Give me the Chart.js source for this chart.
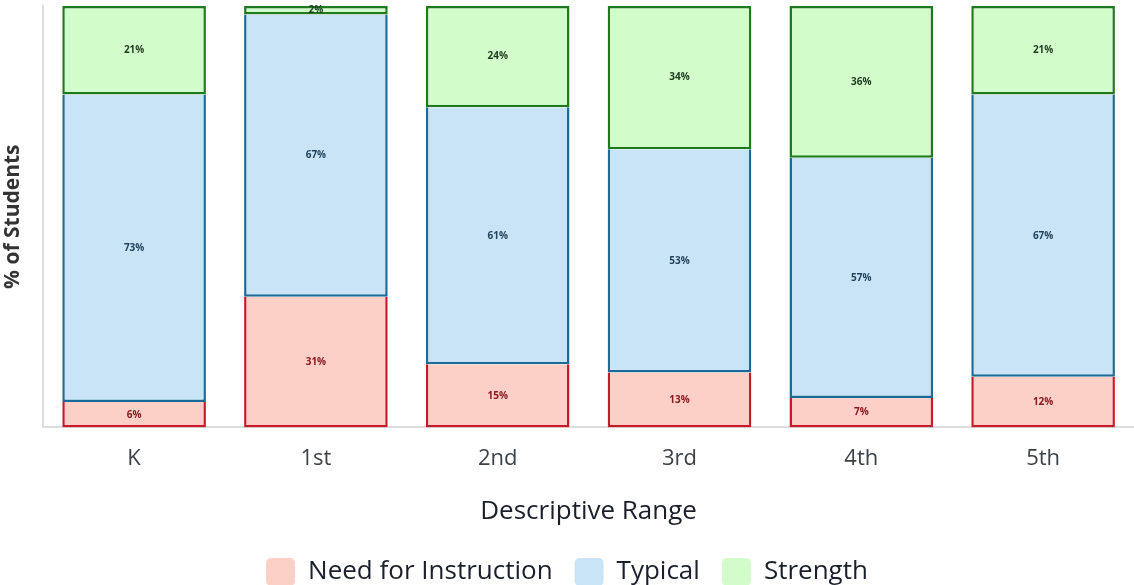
<!DOCTYPE html>
<html>
<head>
<meta charset="utf-8">
<script src="https://cdn.jsdelivr.net/npm/chart.js@4.4.1/dist/chart.umd.min.js"></script>
<style>
  html, body { margin: 0; padding: 0; background: #fff; }
  #wrap { width: 1134px; height: 585px; }
</style>
</head>
<body>
<div id="wrap"><canvas id="chart"></canvas></div>
<script>
const grades = ['K', '1st', '2nd', '3rd', '4th', '5th'];
const needForInstruction = [6, 31, 15, 13, 7, 12];
const typical = [73, 67, 61, 53, 57, 67];
const strength = [21, 2, 24, 34, 36, 21];

const FONT = '"Open Sans", sans-serif';

// percent labels in the middle of each segment
const segmentLabels = {
  id: 'segmentLabels',
  afterDatasetsDraw(chart) {
    const ctx = chart.ctx;
    ctx.save();
    ctx.font = 'bold 10px ' + FONT;
    ctx.textAlign = 'center';
    ctx.textBaseline = 'middle';
    chart.data.datasets.forEach((ds, i) => {
      const meta = chart.getDatasetMeta(i);
      meta.data.forEach((bar, j) => {
        const p = bar.getProps(['x', 'y', 'base'], true);
        ctx.fillStyle = ds.labelColor;
        ctx.fillText(ds.data[j] + '%', p.x, (p.y + p.base) / 2);
      });
    });
    ctx.restore();
  }
};

new Chart(document.getElementById('chart'), {
  type: 'bar',
  data: {
    labels: grades,
    datasets: [
      {
        label: 'Need for Instruction',
        data: needForInstruction,
        backgroundColor: '#fdd0c7',
        borderColor: '#c8192b',
        labelColor: '#8a1a22',
        borderWidth: 2.5,
        borderSkipped: 'top'
      },
      {
        label: 'Typical',
        data: typical,
        backgroundColor: '#c8e4f6',
        borderColor: '#1a6b98',
        labelColor: '#1f3f5a',
        borderWidth: 2.5,
        borderSkipped: 'top'
      },
      {
        label: 'Strength',
        data: strength,
        backgroundColor: '#d2fcca',
        borderColor: '#1d7a1d',
        labelColor: '#1f3a1f',
        borderWidth: 2.5,
        borderSkipped: false
      }
    ]
  },
  options: {
    responsive: true,
    maintainAspectRatio: false,
    animation: false,
    layout: { padding: { top: 6, right: 0, bottom: -11, left: 0 } },
    datasets: { bar: { categoryPercentage: 0.79, barPercentage: 1 } },
    plugins: {
      tooltip: { enabled: false },
      legend: {
        position: 'bottom',
        labels: {
          font: { family: FONT, size: 26 },
          color: '#1a1f2b',
          boxWidth: 29,
          boxHeight: 28,
          padding: 22,
          useBorderRadius: true,
          borderRadius: 5,
          generateLabels(chart) {
            return chart.data.datasets.map((ds, i) => ({
              text: ds.label,
              fillStyle: ds.backgroundColor,
              strokeStyle: ds.backgroundColor,
              lineWidth: 0,
              borderRadius: 5,
              datasetIndex: i,
              hidden: false,
              fontColor: '#1a1f2b'
            }));
          }
        }
      }
    },
    scales: {
      x: {
        stacked: true,
        grid: { display: false, drawTicks: false },
        border: { color: '#dddddd', width: 2 },
        ticks: { color: '#3d4248', font: { family: FONT, size: 22 }, padding: 18 },
        title: {
          display: true,
          text: 'Descriptive Range',
          color: '#1a1f2b',
          font: { family: FONT, size: 26 },
          padding: { top: 6, bottom: 9 }
        }
      },
      y: {
        stacked: true,
        min: 0,
        max: 100,
        grid: { display: false, drawTicks: false },
        border: { color: '#dddddd', width: 2 },
        ticks: { display: false },
        title: {
          display: true,
          text: '% of Students',
          color: '#333',
          font: { family: FONT, size: 21, weight: 'bold' },
          padding: { top: 0, bottom: 18 }
        }
      }
    }
  },
  plugins: [segmentLabels]
});
</script>
</body>
</html>
